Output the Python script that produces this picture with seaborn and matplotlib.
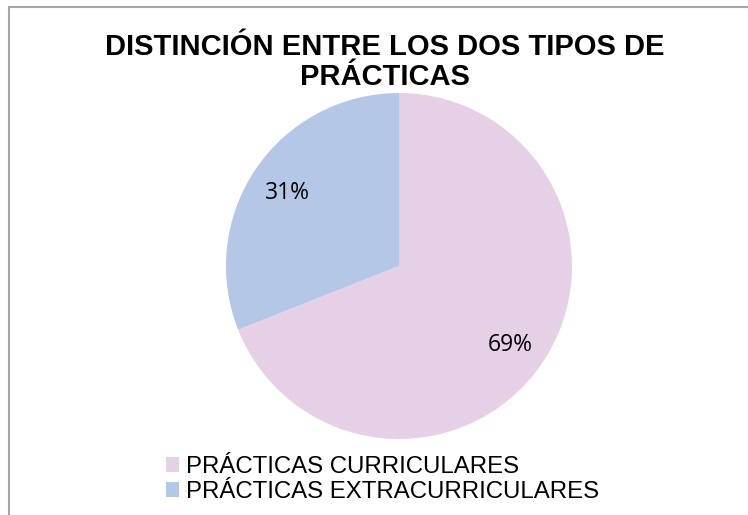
import matplotlib
matplotlib.use("Agg")
import matplotlib.pyplot as plt
from matplotlib.patches import Patch
from matplotlib.lines import Line2D
import seaborn as sns

# Data
categories = ["PRÁCTICAS CURRICULARES", "PRÁCTICAS EXTRACURRICULARES"]
shares = [69, 31]
colors = ["#E6D0E6", "#B4C7E7"]
title = "DISTINCIÓN ENTRE LOS DOS TIPOS DE\nPRÁCTICAS"

sns.set_theme(style="white")
plt.rcParams['font.family'] = ['Liberation Sans', 'DejaVu Sans']
plt.rcParams['text.color'] = "black"

fig = plt.figure(figsize=(7.48, 5.15), dpi=100)
fig.patch.set_facecolor("white")

# Pie axes (centered around the pie area)
ax = fig.add_axes([0.3021, 0.1476, 0.4626, 0.6718])
wedges, texts, autotexts = ax.pie(
    shares,
    colors=colors,
    startangle=90,
    counterclock=False,
    autopct="%d%%",
    pctdistance=0.78,
    wedgeprops={"linewidth": 0},
    textprops={"fontsize": 16.5, "family": ["Open Sans", "DejaVu Sans"], "color": "black"},
)
for t in autotexts:
    t.set_va("center_baseline")
ax.set_xlim(-1, 1)
ax.set_ylim(-1, 1)
ax.set_aspect("equal")
ax.axis("off")

# Title
fig.text(385 / 748, 1 - 62 / 515, title, ha="center", va="center",
         fontsize=21, fontweight="bold", linespacing=1.12, color="black")

# Legend
handles = [Patch(facecolor=c, edgecolor="none") for c in colors]
leg = fig.legend(handles, categories, loc="upper left",
                 bbox_to_anchor=(166 / 748, 1 - 456 / 515),
                 frameon=False, fontsize=17.3, handlelength=0.55, handleheight=0.55,
                 handletextpad=0.3, labelspacing=0.12, borderpad=0, borderaxespad=0)
for t in leg.get_texts():
    t.set_color("black")

# Chart border (only top and left visible in the crop)
fig.add_artist(Line2D([9 / 748, 1], [1 - 7 / 515, 1 - 7 / 515],
                      transform=fig.transFigure, color="#A6A6A6", lw=1.5))
fig.add_artist(Line2D([9 / 748, 9 / 748], [0, 1 - 7 / 515],
                      transform=fig.transFigure, color="#A6A6A6", lw=1.5))

fig.savefig("out.png", dpi=100, facecolor="white")
